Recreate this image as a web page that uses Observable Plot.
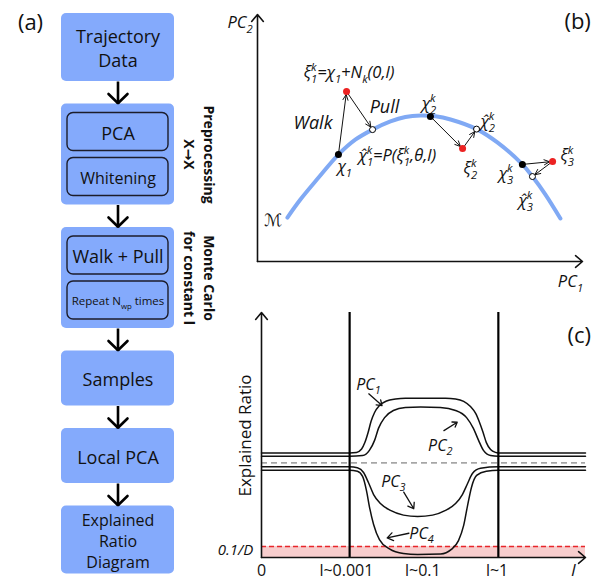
<!DOCTYPE html>
<html>
<head>
<meta charset="utf-8">
<script src="https://cdn.jsdelivr.net/npm/d3@7"></script>
<script src="https://cdn.jsdelivr.net/npm/@observablehq/plot@0.6"></script>
<style>
  body { margin: 0; background: #fff; }
  #fig { position: relative; width: 606px; height: 580px; font-family: "Open Sans", sans-serif; }
</style>
</head>
<body>
<div id="fig"></div>
<script>
// ---------- (a) workflow ----------
const stepLabels = ["Trajectory\nData", null, null, "Samples", "Local PCA", "Explained\nRatio\nDiagram"];
const stepParts  = [[], ["PCA", "Whitening"], ["Walk + Pull", "Repeat N_{wp} times"], [], [], []];
const stepNotes  = [[], ["Preprocessing", "X→X"], ["Monte Carlo", "for constant l"], [], [], []];

// ---------- (b) manifold sketch (PC1, PC2 in arbitrary units) ----------
const manifold = [[0.92,1.78],[1.32,2.51],[1.88,3.40],[2.49,4.33],[3.02,4.94],[3.54,5.34],[4.09,5.67],
  [4.55,5.85],[5.02,5.91],[5.48,5.88],[5.94,5.75],[6.74,5.36],[7.38,4.82],[8.15,3.93],[8.46,3.44],[8.86,2.71],[9.32,1.74]];
const chiPts    = [[2.49,4.33],[5.32,5.87],[8.15,3.93]];   // chain states on the manifold
const xiPts     = [[2.74,6.88],[6.31,4.57],[9.08,4.05]];   // random-walk proposals
const chiHatPts = [[3.54,5.34],[6.74,5.36],[8.46,3.44]];   // proposals pulled back
const bLabels = ["ξ_1^k=χ_1+N_k(0,l)", "Walk", "Pull", "χ_2^k", "χ̂_2^k", "χ̂_1^k=P(ξ_1^k,θ,l)",
  "χ_1", "ξ_2^k", "χ_3^k", "ξ_3^k", "χ̂_3^k"];
const bLabelPC1 = [1.42, 1.11, 3.45, 5.05, 6.86, 3.11, 2.46, 6.34, 7.42, 9.32, 8.03];
const bLabelPC2 = [7.66, 5.60, 6.23, 6.40, 5.67, 4.29, 3.85, 3.77, 3.56, 4.29, 2.47];

// ---------- (c) explained-ratio sketch ----------
const pc1Curve = [[0,0.427],[2.72,0.427],[2.93,0.429],[3.09,0.443],[3.19,0.469],[3.29,0.510],[3.38,0.555],[3.49,0.592],
  [3.64,0.620],[3.86,0.639],[4.14,0.647],[4.44,0.650],[5.68,0.650],[5.99,0.647],[6.24,0.637],[6.45,0.616],[6.61,0.588],
  [6.73,0.551],[6.84,0.510],[6.94,0.469],[7.07,0.441],[7.22,0.429],[7.31,0.427],[10,0.427]];
const pc2Curve = [[0,0.413],[2.72,0.413],[3.12,0.416],[3.33,0.437],[3.49,0.478],[3.61,0.527],[3.80,0.571],[4.07,0.600],
  [4.44,0.612],[4.91,0.614],[5.52,0.612],[5.99,0.600],[6.33,0.571],[6.54,0.527],[6.70,0.478],[6.85,0.437],[7.07,0.416],[7.31,0.413],[10,0.413]];
const pc3Curve = [[0,0.370],[2.72,0.370],[2.96,0.366],[3.15,0.347],[3.30,0.306],[3.46,0.257],[3.67,0.220],[3.98,0.192],
  [4.38,0.173],[4.82,0.167],[5.28,0.173],[5.68,0.192],[5.99,0.220],[6.20,0.257],[6.36,0.302],[6.51,0.343],[6.76,0.364],[7.31,0.370],[10,0.370]];
const pc4Curve = [[0,0.356],[2.72,0.356],[2.96,0.352],[3.12,0.331],[3.24,0.273],[3.33,0.208],[3.46,0.135],[3.64,0.073],
  [3.95,0.035],[4.38,0.016],[4.82,0.012],[5.53,0.014],[5.86,0.033],[6.08,0.069],[6.24,0.131],[6.36,0.212],[6.48,0.286],[6.64,0.335],[6.94,0.352],[7.31,0.356],[10,0.356]];
const uniformLevel = 0.386;   // 1/D
const floorLevel = 0.045;     // 0.1/D
const regimeBounds = [2.72, 7.31];
const lTicks = [0, 2.62, 4.98, 7.27];
const lTickLabels = ["0", "l~0.001", "l~0.1", "l~1"];
const pcNames = ["PC_1", "PC_2", "PC_3", "PC_4"];
const pcLabelAt = [[3.30,0.706],[5.52,0.457],[4.07,0.310],[4.94,0.098]];
const pcPointer = [[[3.31,0.668],[3.72,0.620]], [[5.63,0.518],[6.04,0.552]], [[4.39,0.267],[4.70,0.199]], [[4.55,0.099],[3.88,0.080]]];

const BOX = "#84aafc";
const CURVE = "#80a9f4";
const FONT = "Open Sans, DejaVu Sans, sans-serif";

// --- helpers: sub/superscript markup ( _x, ^x, _{..} ) rendered as tspans ---
function parseRich(s) {
  const out = []; let i = 0, buf = "";
  const arg = () => {
    if (s[i] === "{") { const j = s.indexOf("}", i); const a = s.slice(i + 1, j); i = j + 1; return a; }
    return s[i++];
  };
  while (i < s.length) {
    const c = s[i];
    if (c === "_" || c === "^") {
      if (buf) { out.push({t: buf}); buf = ""; }
      i++;
      const a = arg();
      const last = out[out.length - 1];
      if (c === "^" && last && last.sub !== undefined && last.sup === undefined) last.sup = a;
      else if (c === "_" && last && last.sup !== undefined && last.sub === undefined) last.sub = a;
      else out.push(c === "_" ? {sub: a} : {sup: a});
    } else { buf += c; i++; }
  }
  if (buf) out.push({t: buf});
  return out;
}
function richText(root) {
  const ns = "http://www.w3.org/2000/svg";
  root.querySelectorAll("text").forEach(el => {
    if (el.querySelector("tspan")) return;
    const s = el.textContent;
    if (!/[_^]/.test(s)) return;
    const fs = parseFloat(getComputedStyle(el).fontSize);
    const toks = parseRich(s);
    el.textContent = "";
    let cur = 0, carry = 0;
    const add = (txt, small, shift, dx) => {
      const t = document.createElementNS(ns, "tspan");
      if (small) t.setAttribute("font-size", (fs * 0.68).toFixed(2));
      const dy = shift - cur; cur = shift;
      if (dy) t.setAttribute("dy", dy.toFixed(2));
      if (dx) t.setAttribute("dx", dx.toFixed(2));
      t.textContent = txt;
      el.appendChild(t);
      return t;
    };
    for (const k of toks) {
      if (k.t !== undefined) { add(k.t, false, 0, carry); carry = 0; continue; }
      let w1 = 0, w2 = 0;
      if (k.sub !== undefined) { w1 = add(k.sub, true, fs * 0.3, carry).getComputedTextLength(); carry = 0; }
      if (k.sup !== undefined) { w2 = add(k.sup, true, -fs * 0.42, k.sub !== undefined ? -w1 : carry).getComputedTextLength(); carry = 0; }
      if (k.sub !== undefined && k.sup !== undefined) carry = Math.max(0, w1 - w2);
    }
  });
}
const fig = document.getElementById("fig");
function place(svg, left, top) {
  Object.assign(svg.style, {position: "absolute", left: left + "px", top: top + "px", overflow: "visible", background: "transparent", maxWidth: "none"});
  fig.appendChild(svg);
  richText(svg);
}

// ---------- panel (a): layout of the workflow boxes ----------
const boxX1 = 61, boxX2 = 174, boxMid = (boxX1 + boxX2) / 2, subInset = 6, subPad = 9, subH = 38, subGap = 7, flowGap = 22.5;
const smallText = {"Whitening": 16, "Repeat N_{wp} times": 11.5};
const boxes = [], subBoxes = [], boxText = [], links = [], notes = [];
let cursor = 13;
stepLabels.forEach((lab, i) => {
  const parts = stepParts[i];
  const lines = lab ? lab.split("\n").length : 0;
  const h = parts.length ? 2 * subPad + parts.length * subH + (parts.length - 1) * subGap : (lines > 1 ? 68 : 55);
  const y1 = cursor, y2 = y1 + h;
  boxes.push({y1, y2});
  parts.forEach((p, j) => {
    const sy = y1 + subPad + j * (subH + subGap);
    subBoxes.push({y1: sy, y2: sy + subH});
    boxText.push({text: p, y: sy + subH / 2, size: smallText[p] ?? 18});
  });
  if (lab) boxText.push({text: lab, y: (y1 + y2) / 2, size: lines > 2 ? 16 : 18});
  stepNotes[i].forEach((n, j) => notes.push({text: n, x: j === 0 ? 208 : 187.5, y: (y1 + y2) / 2}));
  if (i > 0) links.push({y1: boxes[i - 1].y2, y2: y1});
  cursor = y2 + flowGap;
});
const heads = links.flatMap((l, i) => [
  {k: i, x: boxMid - 9.5, y: l.y2 - 10}, {k: i, x: boxMid, y: l.y2 - 0.8}, {k: i, x: boxMid + 9.5, y: l.y2 - 10}
]);

place(Plot.plot({
  width: 230, height: 580, margin: 0,
  x: {domain: [0, 230], range: [0, 230], axis: null},
  y: {domain: [0, 580], range: [0, 580], axis: null},
  marks: [
    Plot.rect(boxes, {x1: () => boxX1, x2: () => boxX2, y1: "y1", y2: "y2", fill: BOX, rx: 5}),
    Plot.rect(subBoxes, {x1: () => boxX1 + subInset, x2: () => boxX2 - subInset, y1: "y1", y2: "y2", fill: BOX, stroke: "#1c1d2b", strokeWidth: 1.4, rx: 6}),
    Plot.link(links, {x1: () => boxMid, x2: () => boxMid, y1: "y1", y2: "y2", stroke: "#000", strokeWidth: 2.6}),
    Plot.line(heads, {x: "x", y: "y", z: "k", stroke: "#000", strokeWidth: 2.6, strokeLinejoin: "miter"}),
    Plot.text(boxText, {x: () => boxMid, y: "y", text: "text", fontSize: d => d.size, lineHeight: 1.33, fill: "#111", fontFamily: FONT}),
    Plot.text(notes, {x: "x", y: "y", text: "text", rotate: 90, fontWeight: "bold", fontSize: 14, fill: "#111", fontFamily: FONT}),
    Plot.text(["(a)"], {x: () => 30, y: () => 22, text: d => d, fontSize: 22, fill: "#111", fontFamily: FONT})
  ]
}), 0, 0);

// ---------- panel (b) ----------
const bAxes = [{a: [0, 0], b: [10, 0]}, {a: [0, 0], b: [0, 10]}];
const walkPull = [
  ...chiPts.map((p, i) => ({a: p, b: xiPts[i], s: 0})),
  ...xiPts.map((p, i) => ({a: p, b: chiHatPts[i], s: 3}))
];
const bIdx = bLabels.map((_, i) => i);
place(Plot.plot({
  width: 376, height: 295, marginLeft: 27, marginRight: 24, marginTop: 14, marginBottom: 34,
  x: {domain: [0, 10], axis: null},
  y: {domain: [0, 10], axis: null},
  marks: [
    Plot.arrow(bAxes, {x1: d => d.a[0], y1: d => d.a[1], x2: d => d.b[0], y2: d => d.b[1], stroke: "#111", strokeWidth: 1.6, headLength: 8.5, headAngle: 80}),
    Plot.line(manifold, {x: d => d[0], y: d => d[1], curve: "catmull-rom", stroke: CURVE, strokeWidth: 4}),
    Plot.arrow(walkPull, {x1: d => d.a[0], y1: d => d.a[1], x2: d => d.b[0], y2: d => d.b[1], insetStart: d => d.s, insetEnd: 3, stroke: "#111", strokeWidth: 1, headLength: 9, headAngle: 50}),
    Plot.dot(chiPts, {x: d => d[0], y: d => d[1], r: 3.5, fill: "#000"}),
    Plot.dot(xiPts, {x: d => d[0], y: d => d[1], r: 3.5, fill: "#ec2222"}),
    Plot.dot(chiHatPts, {x: d => d[0], y: d => d[1], r: 3, fill: "#fff", stroke: "#000", strokeWidth: 1}),
    Plot.text(bIdx, {x: i => bLabelPC1[i], y: i => bLabelPC2[i], text: i => bLabels[i], textAnchor: "start", fontStyle: "italic",
      fontSize: i => (bLabels[i] === "Walk" || bLabels[i] === "Pull") ? 18 : 16.5, fill: "#111", fontFamily: FONT}),
    Plot.text(["ℳ"], {x: () => 0.49, y: () => 1.66, text: d => d, fontSize: 17, fontStyle: "italic", fill: "#111", fontFamily: FONT}),
    Plot.text(["PC_2"], {x: () => -0.15, y: () => 9.68, text: d => d, textAnchor: "end", fontSize: 16.5, fontStyle: "italic", fill: "#111", fontFamily: FONT}),
    Plot.text(["PC_1"], {x: () => 9.63, y: () => -0.81, text: d => d, fontSize: 16.5, fontStyle: "italic", fill: "#111", fontFamily: FONT}),
    Plot.text(["(b)"], {x: () => 9.85, y: () => 9.68, text: d => d, fontSize: 22, fill: "#111", fontFamily: FONT})
  ]
}), 230, 0);

// ---------- panel (c) ----------
const cAxes = [{a: [0, 0], b: [10, 0]}, {a: [0, 0], b: [0, 1]}];
const curves = [pc1Curve, pc2Curve, pc3Curve, pc4Curve].flatMap((c, k) => c.map(p => ({k, x: p[0], y: p[1]})));
const pcIdx = pcNames.map((_, i) => i);
place(Plot.plot({
  width: 406, height: 285, marginLeft: 61, marginRight: 21, marginTop: 17, marginBottom: 23,
  x: {domain: [0, 10], axis: null},
  y: {domain: [0, 1], axis: null},
  marks: [
    Plot.rect([floorLevel], {x1: () => 0, x2: () => 10, y1: () => 0, y2: d => d, fill: "#f7cdcd"}),
    Plot.ruleY([floorLevel], {x1: () => 0, x2: () => 10, stroke: "#e8262a", strokeWidth: 1.6, strokeDasharray: "5,3"}),
    Plot.ruleY([uniformLevel], {x1: () => 0, x2: () => 10, stroke: "#666", strokeWidth: 1, strokeDasharray: "6,4"}),
    Plot.line(curves, {x: "x", y: "y", z: "k", curve: "monotone-x", stroke: "#111", strokeWidth: 1.5}),
    Plot.ruleX(regimeBounds, {y1: () => 0, y2: () => 1.0, stroke: "#000", strokeWidth: 2.2}),
    Plot.arrow(cAxes, {x1: d => d.a[0], y1: d => d.a[1], x2: d => d.b[0], y2: d => d.b[1], stroke: "#111", strokeWidth: 1.6, headLength: 8.5, headAngle: 80}),
    Plot.arrow(pcPointer, {x1: d => d[0][0], y1: d => d[0][1], x2: d => d[1][0], y2: d => d[1][1], stroke: "#111", strokeWidth: 1.3, headLength: 8, headAngle: 70}),
    Plot.text(pcIdx, {x: i => pcLabelAt[i][0], y: i => pcLabelAt[i][1], text: i => pcNames[i], fontSize: 16, fontStyle: "italic", fill: "#111", fontFamily: FONT}),
    Plot.text(lTicks, {x: d => d, y: () => -0.054, text: (d, i) => lTickLabels[i], fontSize: 16, fontStyle: (d, i) => i ? "italic" : "normal", fill: "#111", fontFamily: FONT}),
    Plot.text(["l"], {x: () => 9.63, y: () => -0.054, text: d => d, fontSize: 17, fontStyle: "italic", fill: "#111", fontFamily: FONT}),
    Plot.text(["0.1/D"], {x: () => -0.25, y: () => 0.028, text: d => d, textAnchor: "end", fontSize: 15, fontStyle: "italic", fill: "#111", fontFamily: FONT}),
    Plot.text(["Explained Ratio"], {x: () => -0.48, y: () => 0.498, text: d => d, rotate: -90, fontSize: 17, fill: "#111", fontFamily: FONT}),
    Plot.text(["(c)"], {x: () => 9.81, y: () => 0.906, text: d => d, fontSize: 22, fill: "#111", fontFamily: FONT})
  ]
}), 200, 295);
</script>
</body>
</html>
